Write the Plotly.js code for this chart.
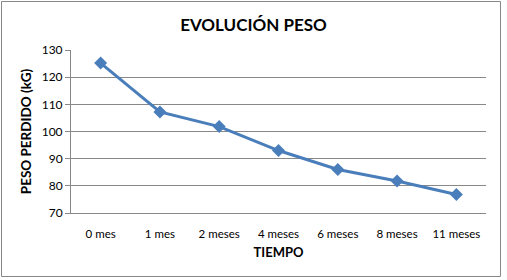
<!DOCTYPE html>
<html>
<head>
<meta charset="utf-8">
<script src="https://cdn.plot.ly/plotly-3.0.1.min.js"></script>
<style>html,body{margin:0;padding:0;background:#fff;}#chart{width:507px;height:280px;}</style>
</head>
<body>
<div id="chart"></div>
<script>
const categories = ["0 mes", "1 mes", "2 meses", "4 meses", "6 meses", "8 meses", "11 meses"];
const peso = [125.2, 107.2, 101.8, 93, 86, 81.8, 76.8];
const yTicks = [70, 80, 90, 100, 110, 120, 130];

const FONT = "Lato, 'Open Sans', sans-serif";
const W = 507, H = 280, L = 71, R = 21, T = 50, B = 67;
const pw = W - L - R, ph = H - T - B;

const trace = {
  x: categories,
  y: peso,
  type: "scatter",
  mode: "lines+markers",
  line: {color: "#4A7EBB", width: 3},
  marker: {symbol: "diamond", size: 10, color: "#4A7EBB"},
  hoverinfo: "skip"
};

const layout = {
  width: W, height: H,
  margin: {l: L, r: R, t: T, b: B, pad: 0},
  paper_bgcolor: "#ffffff",
  plot_bgcolor: "#ffffff",
  showlegend: false,
  font: {family: FONT, color: "#000000", size: 11},
  title: {text: "<b>EVOLUCIÓN PESO</b>", font: {family: FONT, size: 17, color: "#000"}, x: 0.5, xanchor: "center", y: 1 - 25/H, yanchor: "middle"},
  xaxis: {
    type: "category",
    range: [-0.5, categories.length - 0.5],
    showgrid: false,
    showline: true, linecolor: "#888888", linewidth: 1,
    ticks: "", ticklabelstandoff: 10,
    tickfont: {family: FONT, size: 11.5, color: "#000"},
    title: {text: "<b>TIEMPO</b>", font: {family: FONT, size: 13, color: "#000"}, standoff: 9},
    zeroline: false, fixedrange: true
  },
  yaxis: {
    range: [70, 130],
    tickvals: yTicks,
    ticktext: yTicks.map(String),
    showgrid: true, gridcolor: "#888888", gridwidth: 1,
    showline: true, linecolor: "#888888", linewidth: 1,
    ticks: "outside", ticklen: 5, tickcolor: "#888888",
    tickfont: {family: FONT, size: 12, color: "#000"},
    title: {text: "<b>PESO PERDIDO (kG)</b>", font: {family: FONT, size: 13.5, color: "#000"}, standoff: 6},
    zeroline: false, fixedrange: true
  },
  shapes: [{
    type: "rect", xref: "paper", yref: "paper",
    x0: (1.5 - L) / pw, x1: (500.5 - L) / pw,
    y0: (H - B - 276.5) / ph, y1: (H - B - 1.5) / ph,
    line: {color: "#888888", width: 1}, fillcolor: "rgba(0,0,0,0)", layer: "below"
  }]
};

Plotly.newPlot("chart", [trace], layout, {displayModeBar: false, staticPlot: true});
</script>
</body>
</html>
